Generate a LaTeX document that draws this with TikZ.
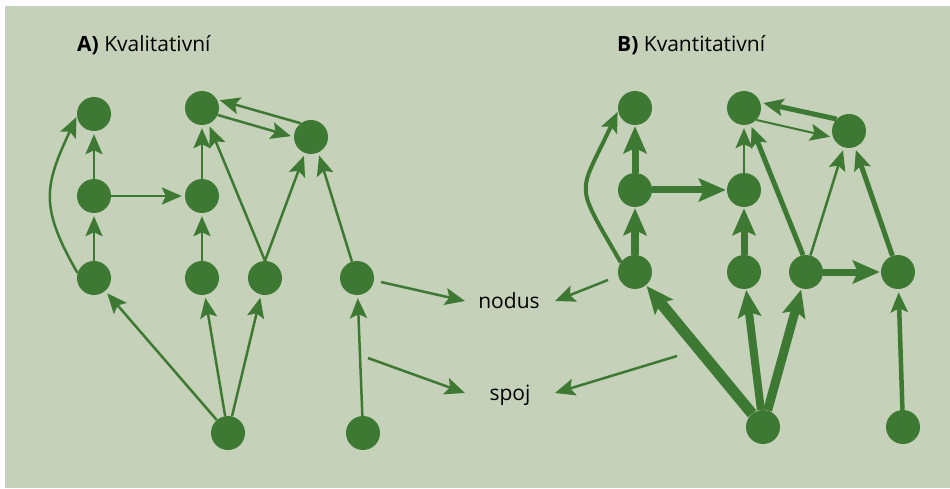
\documentclass[tikz,border=0pt]{standalone}
\usepackage{fontspec}
\setmainfont{Open Sans}
\usetikzlibrary{arrows.meta}
\definecolor{paper}{HTML}{C5D1B8}
\definecolor{leaf}{HTML}{3D7932}
\begin{document}
\begin{tikzpicture}[x=1pt,y=1pt,
  dot/.style={circle, fill=leaf, minimum size=34pt, inner sep=0pt},
  link/.style={draw=leaf, line width=2.5pt, -{Stealth[length=20pt,width=17pt,inset=4pt]}, shorten >=3pt},
  heavy/.style={line width=#1, -{Stealth[length=27pt,width=23pt,inset=5pt]}, shorten >=1pt},
  lbl/.style={inner sep=0pt, font=\fontsize{21}{25}\selectfont}]
\useasboundingbox (0,0) rectangle (950,488);
\fill[paper] (5,0) rectangle (950,482);
\node [lbl, anchor=base west] (titleA) at (77,436) {\textbf{A)} Kvalitativní};
\node [lbl, anchor=base west] (titleB) at (617,436) {\textbf{B)} Kvantitativní};
\node [lbl, anchor=base] (nodus) at (509,180) {nodus};
\node [lbl, anchor=base] (spoj) at (510,88) {spoj};
\node [dot] (aTL) at (94,374) {};
\node [dot] (aML) at (94,292) {};
\node [dot] (aBL) at (94,210) {};
\node [dot] (aT2) at (202,380) {};
\node [dot] (aM2) at (202,292) {};
\node [dot] (aB2) at (202,210) {};
\node [dot] (aB3) at (265,210) {};
\node [dot] (aTR) at (311,351) {};
\node [dot] (aB4) at (357,210) {};
\node [dot] (aRoot) at (228,55) {};
\node [dot] (aBR) at (363,55) {};
\node [dot] (bTL) at (635,380) {};
\node [dot] (bML) at (635,298) {};
\node [dot] (bBL) at (635,216) {};
\node [dot] (bT2) at (744,380) {};
\node [dot] (bM2) at (744,298) {};
\node [dot] (bB2) at (744,216) {};
\node [dot] (bB3) at (806,216) {};
\node [dot] (bTR) at (849,357) {};
\node [dot] (bB4) at (898,216) {};
\node [dot] (bRoot) at (763,61) {};
\node [dot] (bBR) at (903,61) {};
\coordinate (aNodusFrom) at (381,206);
\coordinate (aNodusTo) at (465,187);
\coordinate (aSpojFrom) at (368,130);
\coordinate (aSpojTo) at (465,95);
\coordinate (bNodusFrom) at (608,208);
\coordinate (bNodusTo) at (555,187);
\coordinate (bSpojFrom) at (677,132);
\coordinate (bSpojTo) at (555,95);
\draw [link] (aML) -- (aTL);
\draw [link] (aBL) -- (aML);
\draw [link, shorten >=1pt] (aBL.163) to[out=120,in=245,looseness=1.25] (aTL.187);
\draw [link] (aML) -- (aM2);
\draw [link] (aM2) -- (aT2);
\draw [link] (aB2) -- (aM2);
\draw [link] (aB3.north) -- (aT2);
\draw [link] (aB3.north) -- (aTR);
\draw [link] (aT2.336) -- (aTR.180);
\draw [link] (aTR.127) -- (aT2.30);
\draw [link] (aB4) -- (aTR.295);
\draw [link] (aRoot) -- (aBL);
\draw [link] (aRoot) -- (aB2);
\draw [link] (aRoot) -- (aB3);
\draw [link] (aBR) -- (aB4);
\draw [link, shorten >=0pt] (aNodusFrom) -- (aNodusTo);
\draw [link, shorten >=0pt] (aSpojFrom) -- (aSpojTo);
\draw [link, shorten >=0pt] (bNodusFrom) -- (bNodusTo);
\draw [link, shorten >=0pt] (bSpojFrom) -- (bSpojTo);
\draw [link, heavy=7pt] (bML) -- (bTL);
\draw [link, heavy=8pt] (bBL) -- (bML);
\draw [link, line width=4pt, shorten >=1pt] (bBL.146) to[out=120,in=245,looseness=1.6] (bTL.190);
\draw [link, heavy=7pt] (bML) -- (bM2);
\draw [link, line width=2pt] (bM2) -- (bT2);
\draw [link, heavy=7pt] (bB2) -- (bM2);
\draw [link, line width=5pt] (bB3.100) -- (bT2);
\draw [link] (bB3.75) -- (bTR);
\draw [link, line width=2pt] (bT2.316) -- (bTR.202);
\draw [link, line width=5pt] (bTR.136) -- (bT2.19);
\draw [link, line width=5pt] (bB4) -- (bTR.290);
\draw [link, heavy=7pt] (bB3) -- (bB4);
\draw [link, heavy=11pt] (bRoot) -- (bBL);
\draw [link, heavy=8pt] (bRoot) -- (bB2);
\draw [link, heavy=9pt] (bRoot) -- (bB3);
\draw [link, line width=4.5pt] (bBR) -- (bB4);
\end{tikzpicture}
\end{document}
